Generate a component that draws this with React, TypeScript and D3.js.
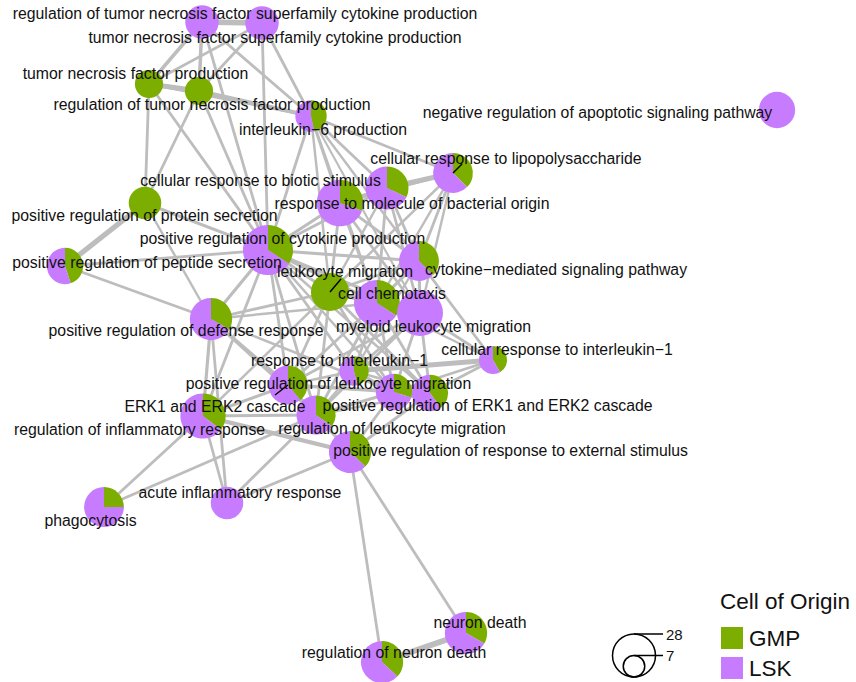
import React from "react"
import * as d3 from "d3"

// GO terms in the enrichment map (layout from the graph layout, y pointing up)
const termNames = [
  "regulation of tumor necrosis factor superfamily cytokine production",
  "tumor necrosis factor superfamily cytokine production",
  "tumor necrosis factor production",
  "regulation of tumor necrosis factor production",
  "interleukin\u22126 production",
  "positive regulation of protein secretion",
  "cellular response to biotic stimulus",
  "response to molecule of bacterial origin",
  "cellular response to lipopolysaccharide",
  "negative regulation of apoptotic signaling pathway",
  "positive regulation of peptide secretion",
  "positive regulation of cytokine production",
  "cytokine\u2212mediated signaling pathway",
  "leukocyte migration",
  "cell chemotaxis",
  "myeloid leukocyte migration",
  "positive regulation of defense response",
  "cellular response to interleukin\u22121",
  "response to interleukin\u22121",
  "ERK1 and ERK2 cascade",
  "regulation of leukocyte migration",
  "positive regulation of ERK1 and ERK2 cascade",
  "positive regulation of leukocyte migration",
  "regulation of inflammatory response",
  "positive regulation of response to external stimulus",
  "phagocytosis",
  "acute inflammatory response",
  "neuron death",
  "regulation of neuron death",
]

const layoutX = [20.2, 26.2, 14.9, 19.9, 31.1, 14.5, 34.0, 38.7, 45.3, 77.7, 6.5, 26.8, 41.9, 33.0, 37.7, 42.0, 21.1, 49.3, 35.4, 28.8, 39.4, 43.0, 31.6, 20.3, 35.0, 10.4, 22.7, 46.6, 38.2]
const layoutY = [66.0, 65.9, 59.8, 59.1, 56.6, 47.9, 47.9, 49.4, 50.9, 57.2, 41.6, 43.2, 42.1, 39.0, 37.9, 36.9, 36.3, 32.2, 31.1, 29.7, 29.0, 28.9, 26.7, 26.6, 23.0, 17.5, 17.9, 4.9, 2.0]

// gene counts per cell of origin
const gmpCount = [0, 0, 12, 12, 7, 16, 10, 9, 9, 0, 9, 13, 9, 22, 11, 0, 9, 5, 6, 9, 6, 8, 8, 11, 10, 6, 0, 9, 10]
const lskCount = [17, 17, 0, 0, 8, 0, 23, 19, 15, 20, 11, 25, 15, 0, 21, 32, 18, 7, 7, 14, 14, 12, 15, 20, 17, 18, 16, 18, 17]

// repelled label positions (same layout units)
const labelX = [24.5, 27.5, 13.55, 21.2, 32.3, 14.45, 26.05, 41.2, 50.6, 59.75, 14.7, 28.25, 55.6, 34.5, 39.2, 43.35, 18.6, 55.7, 33.95, 21.5, 39.2, 48.75, 32.85, 13.95, 51.05, 9.05, 24.0, 48.0, 39.4]
const labelY = [66.9, 64.5, 60.9, 57.8, 55.3, 46.7, 50.2, 47.9, 52.4, 57.0, 42.0, 44.4, 41.3, 41.1, 38.9, 35.6, 35.2, 33.3, 32.2, 27.6, 25.4, 27.7, 29.9, 25.3, 23.2, 16.2, 19.0, 6.0, 3.0]

// label segments: [term index, end x, end y]
const segments: [number, number, number][] = [
  [8, 46.2, 51.8],
  [13, 34.1, 40.3],
  [19, 27.5, 28.7],
]

// term similarity edges: [from, to, similarity]
const edges: [number, number, number][] = [
  [0, 1, 0.8], [0, 2, 0.5], [1, 2, 0.4], [0, 3, 0.5], [1, 3, 0.4], [2, 3, 0.75],
  [0, 4, 0.4], [1, 4, 0.4], [2, 4, 0.4], [3, 4, 0.55],
  [0, 11, 0.4], [1, 11, 0.4], [2, 11, 0.4], [3, 11, 0.4], [2, 5, 0.4], [3, 5, 0.4],
  [4, 6, 0.4], [4, 7, 0.4], [4, 8, 0.4], [4, 11, 0.4], [4, 13, 0.35], [4, 14, 0.35], [4, 12, 0.35], [4, 15, 0.3],
  [5, 10, 0.75], [5, 11, 0.45], [5, 16, 0.35], [10, 11, 0.4], [10, 16, 0.4],
  [6, 7, 0.5], [7, 8, 0.75], [6, 8, 0.4], [6, 11, 0.45], [6, 12, 0.4], [6, 13, 0.4], [6, 14, 0.4], [6, 15, 0.4],
  [7, 11, 0.4], [7, 12, 0.4], [7, 14, 0.4], [7, 15, 0.4], [7, 13, 0.35],
  [8, 12, 0.4], [8, 14, 0.35], [8, 15, 0.35], [8, 13, 0.35],
  [11, 13, 0.45], [11, 14, 0.45], [11, 15, 0.45], [11, 12, 0.45], [11, 16, 0.45], [11, 19, 0.4], [11, 18, 0.4],
  [11, 23, 0.4], [11, 22, 0.4], [11, 20, 0.35], [11, 21, 0.35],
  [12, 14, 0.45], [12, 15, 0.45], [12, 13, 0.4], [12, 17, 0.4], [12, 18, 0.35],
  [13, 14, 0.6], [13, 15, 0.6], [14, 15, 0.7], [13, 16, 0.4], [13, 19, 0.4], [13, 20, 0.4], [13, 21, 0.4], [13, 22, 0.4], [13, 23, 0.35],
  [14, 19, 0.4], [14, 20, 0.4], [14, 21, 0.4], [14, 22, 0.4], [14, 18, 0.4],
  [15, 19, 0.4], [15, 20, 0.4], [15, 21, 0.4], [15, 22, 0.4], [15, 18, 0.4], [15, 17, 0.4], [14, 17, 0.35],
  [16, 23, 0.45], [16, 19, 0.45], [16, 22, 0.4], [16, 26, 0.4], [16, 20, 0.35], [16, 14, 0.35],
  [18, 17, 0.75], [18, 19, 0.4], [18, 20, 0.4], [18, 21, 0.4], [18, 22, 0.35], [17, 20, 0.4], [17, 21, 0.4],
  [19, 20, 0.45], [19, 21, 0.45], [19, 22, 0.5], [19, 23, 0.45], [19, 24, 0.4],
  [20, 21, 0.5], [20, 22, 0.45], [21, 22, 0.4], [20, 24, 0.4], [21, 24, 0.4], [22, 24, 0.45], [22, 23, 0.45],
  [23, 24, 0.6], [23, 25, 0.4], [22, 25, 0.4], [23, 26, 0.4], [22, 26, 0.4], [24, 26, 0.4],
  [24, 27, 0.4], [24, 28, 0.4], [27, 28, 0.8],
]

const groups = ["GMP", "LSK"]
const groupColors = ["#7CAE00", "#C77CFF"]
const sizeBreaks = [28, 7]

const width = 856
const height = 682
const font = "'Liberation Sans', Arial, Helvetica, sans-serif"

export default function App() {
  const x = d3.scaleLinear().domain([0, 85.6]).range([0, width])
  const y = d3.scaleLinear().domain([0, 68.2]).range([height, 0])
  const r = d3.scaleSqrt().domain([0, 28]).range([0, 21.5])
  const edgeWidth = d3.scaleLinear().domain([0, 1]).range([0, 7])
  const pie = d3.pie<number>().sort(null).value((d) => d)
  const arc = d3.arc<d3.PieArcDatum<number>>().innerRadius(0)

  const nodes = termNames.map((name, i) => ({
    name,
    cx: x(layoutX[i]),
    cy: y(layoutY[i]),
    counts: [gmpCount[i], lskCount[i]],
    total: gmpCount[i] + lskCount[i],
  }))

  const legendX = 720
  const sizeCx = 634
  const sizeBottom = 677

  return (
    <svg width={width} height={height} style={{ position: "absolute", left: 0, top: 0, background: "#fff" }} fontFamily={font}>
      <g>
        {edges.map(([a, b, s], i) => (
          <line key={i} x1={nodes[a].cx} y1={nodes[a].cy} x2={nodes[b].cx} y2={nodes[b].cy}
            stroke="#bdbdbd" strokeWidth={edgeWidth(s)} strokeLinecap="butt" />
        ))}
      </g>
      <g>
        {nodes.map((n, i) => (
          <g key={i} transform={`translate(${n.cx},${n.cy})`}>
            {pie(n.counts).map((slice, j) =>
              slice.value > 0 ? (
                <path key={j} d={arc.outerRadius(r(n.total))(slice) || ""} fill={groupColors[j]} />
              ) : null
            )}
          </g>
        ))}
      </g>
      <g stroke="#000" strokeWidth={1.4}>
        {segments.map(([i, ex, ey], k) => (
          <line key={k} x1={nodes[i].cx} y1={nodes[i].cy} x2={x(ex)} y2={y(ey)} />
        ))}
      </g>
      <g fontSize={15.8} fill="#111" textAnchor="middle">
        {termNames.map((name, i) => (
          <text key={i} x={x(labelX[i])} y={y(labelY[i])} dominantBaseline="central">{name}</text>
        ))}
      </g>

      {/* size legend */}
      <g fill="none" stroke="#000" strokeWidth={1.5}>
        {sizeBreaks.map((s) => (
          <g key={s}>
            <circle cx={sizeCx} cy={sizeBottom - r(s)} r={r(s)} />
            <line x1={sizeCx} x2={sizeCx + 29} y1={sizeBottom - 2 * r(s)} y2={sizeBottom - 2 * r(s)} />
          </g>
        ))}
      </g>
      <g fontSize={15} fill="#111">
        {sizeBreaks.map((s) => (
          <text key={s} x={sizeCx + 32} y={sizeBottom - 2 * r(s)} dominantBaseline="central">{s}</text>
        ))}
      </g>

      {/* colour legend */}
      <text x={legendX} y={601} fontSize={22.5} fill="#111" dominantBaseline="central">Cell of Origin</text>
      {groups.map((g, i) => (
        <g key={g} transform={`translate(${legendX + 1},${627 + i * 30})`}>
          <rect width={22} height={22} fill={groupColors[i]} />
          <text x={28} y={11} fontSize={22.5} fill="#111" dominantBaseline="central">{g}</text>
        </g>
      ))}
    </svg>
  )
}
